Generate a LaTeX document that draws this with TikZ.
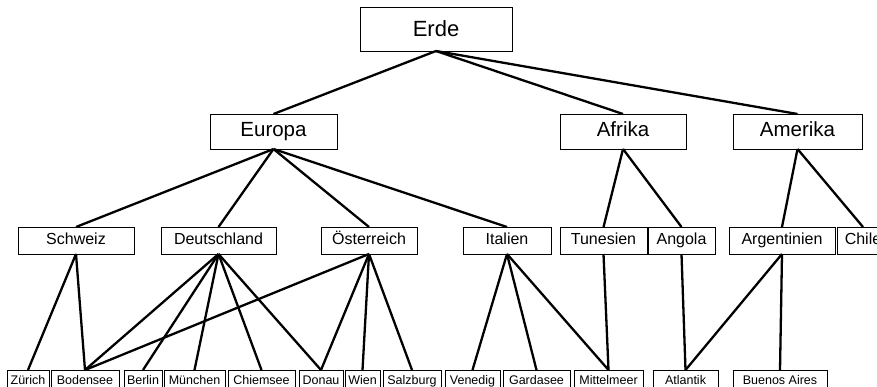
\documentclass[tikz,border=0pt]{standalone}
\usepackage{fontspec}
\setmainfont{Liberation Sans}

\begin{document}
\begin{tikzpicture}[x = 1pt, y = -1pt,
    box/.style = {draw, line width = 0.9pt, inner sep = 0pt, outer sep = 0pt},
    planet/.style = {box, minimum height = 44pt, font = \fontsize{22}{24}\selectfont},
    continent/.style = {box, minimum height = 35pt, text height = 14.5pt, text depth = 4pt,
        font = \fontsize{20.5}{22}\selectfont},
    country/.style = {box, minimum height = 27pt, text height = 11.5pt, text depth = 3.5pt,
        font = \fontsize{16}{18}\selectfont},
    place/.style = {box, minimum height = 22pt, text height = 9pt, text depth = 2.5pt,
        font = \fontsize{12.5}{14}\selectfont},
    link/.style = {line width = 2.3pt}]
    \useasboundingbox (0, 0) rectangle (877, 387);

    % draw top box
    \node[planet, minimum width = 152pt] (erde) at (436, 29) {Erde};

    % draw continents
    \node[continent, minimum width = 127pt] (europa) at (273.5, 131.5) {Europa};
    \node[continent, minimum width = 126pt] (afrika) at (623, 131.5) {Afrika};
    \node[continent, minimum width = 129pt] (amerika) at (797.5, 131.5) {Amerika};

    % draw countries
    \node[country, minimum width = 116pt] (schweiz) at (76, 240.5) {Schweiz};
    \node[country, minimum width = 115pt] (deutschland) at (218.5, 240.5) {Deutschland};
    \node[country, minimum width = 96pt] (oesterreich) at (369, 240.5) {Österreich};
    \node[country, minimum width = 88pt] (italien) at (507, 240.5) {Italien};
    \node[country, minimum width = 87pt] (tunesien) at (603.5, 240.5) {Tunesien};
    \node[country, minimum width = 67pt] (angola) at (681.5, 240.5) {Angola};
    \node[country, minimum width = 106pt] (argentinien) at (782, 240.5) {Argentinien};
    \node[country, minimum width = 52pt] (chile) at (863, 240.5) {Chile};

    % draw cities, lakes and waters
    \node[place, minimum width = 42pt] (zuerich) at (28, 381) {Zürich};
    \node[place, minimum width = 68pt] (bodensee) at (85, 381) {Bodensee};
    \node[place, minimum width = 38pt] (berlin) at (143, 381) {Berlin};
    \node[place, minimum width = 61pt] (muenchen) at (194.5, 381) {München};
    \node[place, minimum width = 67pt] (chiemsee) at (261.5, 381) {Chiemsee};
    \node[place, minimum width = 44pt] (donau) at (321, 381) {Donau};
    \node[place, minimum width = 35pt] (wien) at (362.5, 381) {Wien};
    \node[place, minimum width = 58pt] (salzburg) at (412, 381) {Salzburg};
    \node[place, minimum width = 55pt] (venedig) at (472.5, 381) {Venedig};
    \node[place, minimum width = 67pt] (gardasee) at (536.5, 381) {Gardasee};
    \node[place, minimum width = 69pt] (mittelmeer) at (608.5, 381) {Mittelmeer};
    \node[place, minimum width = 65pt] (atlantik) at (685.5, 381) {Atlantik};
    \node[place, minimum width = 94pt] (buenosaires) at (780, 381) {Buenos Aires};

    % draw links from Erde
    \draw[link] (erde.south) -- (europa.north);
    \draw[link] (erde.south) -- (afrika.north);
    \draw[link] (erde.south) -- (amerika.north);

    % draw links from continents
    \draw[link] (europa.south) -- (schweiz.north);
    \draw[link] (europa.south) -- (deutschland.north);
    \draw[link] (europa.south) -- (oesterreich.north);
    \draw[link] (europa.south) -- (italien.north);
    \draw[link] (afrika.south) -- (tunesien.north);
    \draw[link] (afrika.south) -- (angola.north);
    \draw[link] (amerika.south) -- (argentinien.north);
    \draw[link] (amerika.south) -- (chile.north);

    % draw links from countries
    \draw[link] (schweiz.south) -- (zuerich.north);
    \draw[link] (schweiz.south) -- (bodensee.north);

    \draw[link] (deutschland.south) -- (bodensee.north);
    \draw[link] (deutschland.south) -- (berlin.north);
    \draw[link] (deutschland.south) -- (muenchen.north);
    \draw[link] (deutschland.south) -- (chiemsee.north);
    \draw[link] (deutschland.south) -- (donau.north);

    \draw[link] (oesterreich.south) -- (bodensee.north);
    \draw[link] (oesterreich.south) -- (donau.north);
    \draw[link] (oesterreich.south) -- (wien.north);
    \draw[link] (oesterreich.south) -- (salzburg.north);

    \draw[link] (italien.south) -- (venedig.north);
    \draw[link] (italien.south) -- (gardasee.north);
    \draw[link] (italien.south) -- (mittelmeer.north);
    \draw[link] (tunesien.south) -- (mittelmeer.north);

    \draw[link] (angola.south) -- (atlantik.north);
    \draw[link] (argentinien.south) -- (atlantik.north);
    \draw[link] (argentinien.south) -- (buenosaires.north);
\end{tikzpicture}
\end{document}
